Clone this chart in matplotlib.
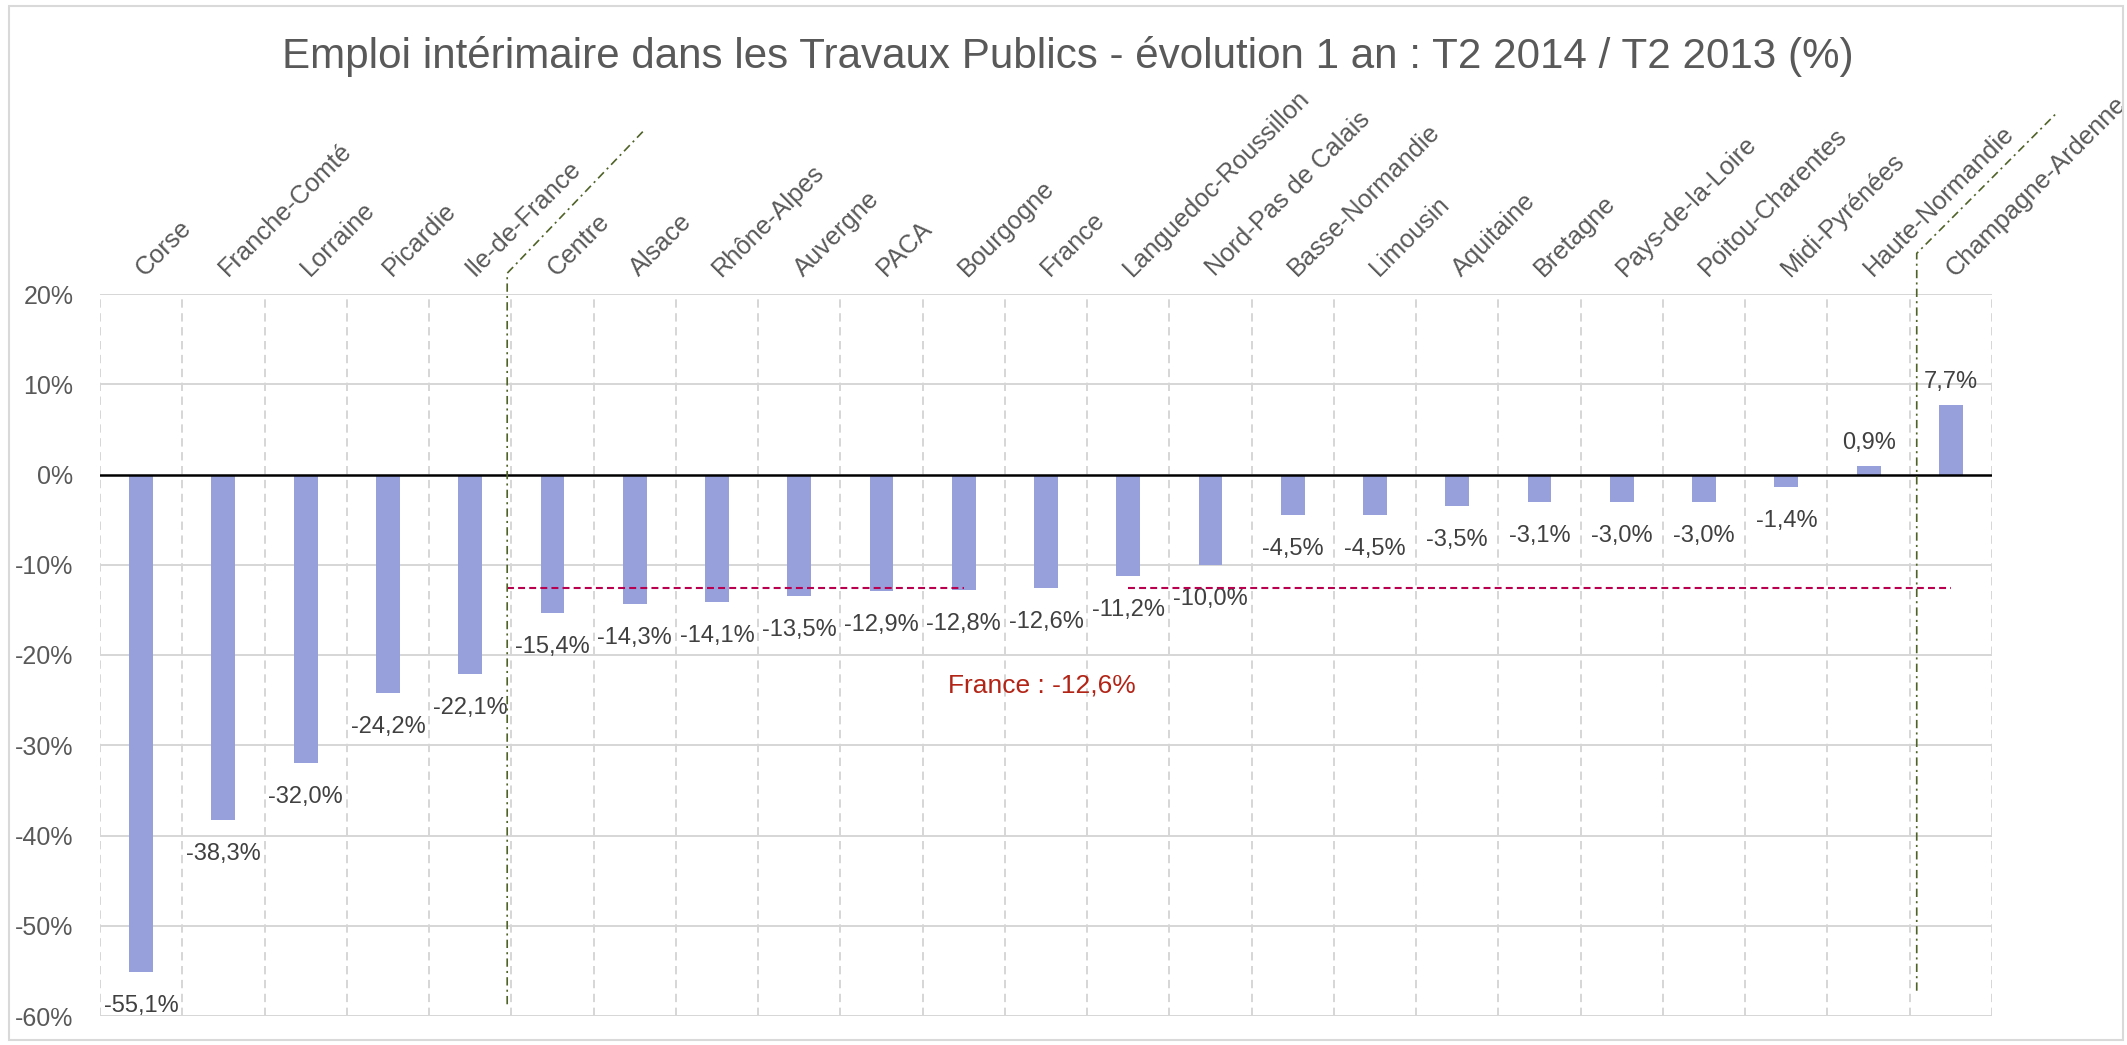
import matplotlib
matplotlib.use("Agg")
from matplotlib import pyplot as plt
from matplotlib.patches import Rectangle
import numpy as np

plt.rcParams['font.family'] = ['Liberation Sans', 'DejaVu Sans']
plt.rcParams['lines.scale_dashes'] = False

regions = ['Corse', 'Franche-Comté', 'Lorraine', 'Picardie', 'Ile-de-France',
           'Centre', 'Alsace', 'Rhône-Alpes', 'Auvergne', 'PACA', 'Bourgogne',
           'France', 'Languedoc-Roussillon', 'Nord-Pas de Calais', 'Basse-Normandie',
           'Limousin', 'Aquitaine', 'Bretagne', 'Pays-de-la-Loire', 'Poitou-Charentes',
           'Midi-Pyrénées', 'Haute-Normandie', 'Champagne-Ardenne']
evolution = [-55.1, -38.3, -32.0, -24.2, -22.1, -15.4, -14.3, -14.1, -13.5, -12.9,
             -12.8, -12.6, -11.2, -10.0, -4.5, -4.5, -3.5, -3.1, -3.0, -3.0,
             -1.4, 0.9, 7.7]
france_value = -12.6
y_ticks = [20, 10, 0, -10, -20, -30, -40, -50, -60]

title = "Emploi intérimaire dans les Travaux Publics - évolution 1 an : T2 2014 / T2 2013 (%)"

W, H = 2127, 1045
fig = plt.figure(figsize=(W / 100, H / 100), dpi=100)
ax = fig.add_axes([100 / W, 1 - 1016 / H, 1892 / W, (1016 - 294) / H])

n = len(regions)
x = np.arange(n)

# grid
for v in y_ticks:
    if v != 0:
        ax.axhline(v, color='#D6D6D6', lw=1.4, zorder=0)
for b in np.arange(n + 1) - 0.5:
    ax.axvline(b, color='#D6D6D6', lw=1.4, linestyle=(0, (6, 4)), zorder=0)

ax.bar(x, evolution, width=0.29, color='#98A0DC', zorder=2)
ax.axhline(0, color='black', lw=1.8, zorder=3)

ax.set_xlim(-0.5, n - 0.5)
ax.set_ylim(-60, 20)
ax.set_yticks(y_ticks)
ax.set_yticklabels([f"{v}%" for v in y_ticks], fontsize=18, color='#595959')
ax.set_xticks([])
ax.tick_params(axis='y', length=0, pad=19)
for s in ax.spines.values():
    s.set_visible(False)

# category labels on top
for i, name in enumerate(regions):
    ax.annotate(name, xy=(i, 20), xytext=(4, 17), textcoords='offset pixels',
                rotation=45, rotation_mode='anchor', ha='left', va='baseline',
                fontsize=18.3, color='#595959', annotation_clip=False)

# data labels
for i, v in enumerate(evolution):
    txt = f"{v:.1f}%".replace('.', ',')
    off = -40 if v < 0 else 17
    ax.annotate(txt, xy=(i, v), xytext=(0, off), textcoords='offset pixels',
                ha='center', va='baseline', fontsize=17, color='#404040')

# France average line
fr_col = '#B8004F'
ax.plot([4.45, 10.0], [france_value, france_value], color=fr_col, lw=1.5,
        linestyle=(0, (5, 3)), zorder=4)
ax.plot([12.0, 22.0], [france_value, france_value], color=fr_col, lw=1.5,
        linestyle=(0, (5, 3)), zorder=4)
ax.text(10.95, -23.35, f"France : {france_value:.1f}%".replace('.', ','),
        ha='center', va='center', fontsize=19, color='#B22416')

# green dash-dot separators
green = '#4F6228'
dd = (0, (6, 3, 1.5, 3))
ax.plot([4.45, 4.45, 6.11], [-58.7, 22.3, 38.1], color=green, lw=1.2,
        linestyle=dd, clip_on=False, zorder=5)
ax.plot([21.585, 21.585, 23.28], [-57.2, 24.5, 40.0], color=green, lw=1.2,
        linestyle=dd, clip_on=False, zorder=5)

fig.text(0.502, 1 - 68 / H, title, ha='center', va='baseline',
         fontsize=30.3, color='#595959')

fig.patches.append(Rectangle((9 / W, 5 / H), (2123 - 9) / W, (1039 - 5) / H,
                             transform=fig.transFigure, fill=False,
                             edgecolor='#D9D9D9', lw=1.5))

fig.savefig('out.png', dpi=100)
